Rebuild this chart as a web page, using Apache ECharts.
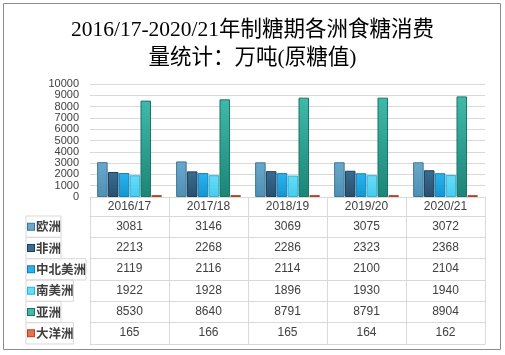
<!DOCTYPE html>
<html><head><meta charset="utf-8">
<script src="https://cdn.jsdelivr.net/npm/echarts@6/dist/echarts.min.js"></script>
<style>html,body{margin:0;padding:0;background:#fff}#c{width:505px;height:355px}</style>
</head><body><div id="c"></div>
<script>
const titleText = '2016/17-2020/21年制糖期各洲食糖消费\n量统计：万吨(原糖值)';
const categories = ['2016/17', '2017/18', '2018/19', '2019/20', '2020/21'];
const seriesNames = ['欧洲', '非洲', '中北美洲', '南美洲', '亚洲', '大洋洲'];
const europe = [3081, 3146, 3069, 3075, 3072];
const africa = [2213, 2268, 2286, 2323, 2368];
const northCentralAmerica = [2119, 2116, 2114, 2100, 2104];
const southAmerica = [1922, 1928, 1896, 1930, 1940];
const asia = [8530, 8640, 8791, 8791, 8904];
const oceania = [165, 166, 165, 164, 162];
const yTicks = { min: 0, max: 10000, interval: 1000 };

const allValues = [europe, africa, northCentralAmerica, southAmerica, asia, oceania];
const palette = [
  { top: '#6aa9cc', bottom: '#4f8fb3', border: '#3e7696' },
  { top: '#3a6d93', bottom: '#284f6e', border: '#1f4059' },
  { top: '#2ab3ef', bottom: '#1595d2', border: '#127fb3' },
  { top: '#66ddf9', bottom: '#46cbef', border: '#2fb0d3' },
  { top: '#40b9a9', bottom: '#1b8577', border: '#177565' },
  { top: '#e8714c', bottom: '#d4522d', border: '#b64424' }
];

const grid = { left: 90, right: 20, top: 84, bottom: 158 };
const headerH = 19;
const rowH = 21.33;
const lineColor = '#d9d9d9';
const textColor = '#404040';
const numFont = "'Liberation Sans', 'Noto Sans', sans-serif";
const cjkFont = "'Noto Sans CJK SC', sans-serif";

const xAxes = [{
  type: 'category', data: categories, position: 'bottom', offset: 0,
  axisLine: { lineStyle: { color: lineColor } },
  axisTick: { show: true, interval: 0, length: headerH, lineStyle: { color: lineColor } },
  axisLabel: { interval: 0, margin: 4, fontSize: 12, color: textColor, fontFamily: numFont }
}];
allValues.forEach((vals, i) => {
  const c = palette[i];
  xAxes.push({
    type: 'category', data: vals.map(String), position: 'bottom', offset: headerH + rowH * i,
    axisLine: { lineStyle: { color: lineColor } },
    axisTick: { show: true, interval: 0, length: rowH, lineStyle: { color: lineColor } },
    axisLabel: { interval: 0, margin: 4.5, fontSize: 12, color: textColor, fontFamily: numFont },
    name: '{s| }{t|' + seriesNames[i] + '}',
    nameLocation: 'start', nameGap: 64, nameMoveOverlap: false,
    nameTextStyle: {
      align: 'left', verticalAlign: 'top',
      width: 62, height: rowH, lineHeight: rowH, padding: [0, 0, 0, 2],
      borderColor: lineColor, borderWidth: 1,
      rich: {
        s: { width: 6, height: 6, fontSize: 4, lineHeight: 6, backgroundColor: c.top,
             borderColor: c.border, borderWidth: 1 },
        t: { color: textColor, fontSize: 12.5, fontWeight: 'bold', lineHeight: rowH,
             fontFamily: cjkFont, padding: [0, 0, 0, 2] }
      }
    }
  });
});
xAxes.push({
  type: 'category', data: categories.map(() => ''), position: 'bottom', offset: headerH + rowH * 6,
  axisLine: { lineStyle: { color: lineColor } },
  axisTick: { show: false }, axisLabel: { show: false }
});

const series = allValues.map((vals, i) => ({
  name: seriesNames[i], type: 'bar', data: vals,
  barGap: '3%', barCategoryGap: '18%',
  itemStyle: {
    color: { type: 'linear', x: 0, y: 0, x2: 0, y2: 1, colorStops: [
      { offset: 0, color: palette[i].top }, { offset: 1, color: palette[i].bottom }] },
    borderColor: palette[i].border, borderWidth: 1
  }
}));

const chart = echarts.init(document.getElementById('c'), null, { renderer: 'canvas' });
chart.setOption({
  animation: false,
  backgroundColor: '#fff',
  title: {
    text: titleText, left: 'center', top: 11,
    textStyle: { fontSize: 21.5, fontWeight: 'normal', color: '#000', lineHeight: 28,
      fontFamily: "'Liberation Serif', 'Noto Sans CJK SC', serif" }
  },
  graphic: [{ type: 'rect', shape: { x: 3.5, y: 3.5, width: 497, height: 346 },
    style: { fill: 'none', stroke: '#8c8c8c', lineWidth: 1 }, silent: true }],
  grid: grid,
  xAxis: xAxes,
  yAxis: {
    type: 'value', min: yTicks.min, max: yTicks.max, interval: yTicks.interval,
    axisLine: { show: false }, axisTick: { show: false },
    axisLabel: { margin: 11, fontSize: 11, lineHeight: 11, color: textColor, fontFamily: numFont,
      showMinLabel: true, showMaxLabel: true, hideOverlap: false,
      formatter: v => String(v) },
    splitLine: { lineStyle: { color: lineColor } }
  },
  series: series
});
</script></body></html>
